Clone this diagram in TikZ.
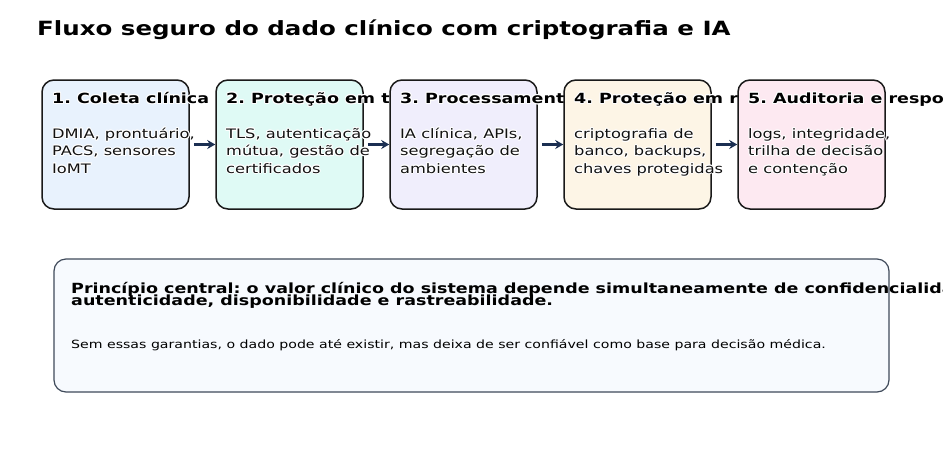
\documentclass[tikz,border=0pt]{standalone}
\usepackage{fontspec}
\setmainfont{DejaVu Sans}[FakeStretch=1.25]
\usepackage[copies]{contour}
\contourlength{0.9pt}
\usetikzlibrary{arrows.meta}
\definecolor{cA}{HTML}{E8F2FD}
\definecolor{cB}{HTML}{DFFAF5}
\definecolor{cC}{HTML}{F0EEFC}
\definecolor{cD}{HTML}{FDF5E6}
\definecolor{cE}{HTML}{FDE9F1}
\definecolor{cF}{HTML}{F7FAFE}
\definecolor{arrc}{HTML}{1B2F52}
\definecolor{txt}{HTML}{111111}
\definecolor{bord}{HTML}{3F4A5A}
\tikzset{
  stepbox/.style={draw=black!90, line width=1.5pt, rounded corners=12pt, minimum width=147pt, minimum height=129pt, inner sep=0pt},
  notebox/.style={draw=bord, line width=1.2pt, rounded corners=12pt, minimum width=835pt, minimum height=133pt, inner sep=0pt, fill=cF},
  ttl/.style={anchor=base west, inner sep=0pt, font=\fontsize{19.6}{24}\selectfont\bfseries, text=black},
  hd/.style={anchor=base west, inner sep=0pt, font=\fontsize{14}{17}\selectfont\bfseries, text=black},
  bd/.style={anchor=base west, inner sep=0pt, font=\fontsize{13}{16}\selectfont, text=txt},
  nb/.style={anchor=base west, inner sep=0pt, font=\fontsize{14}{17}\selectfont\bfseries, text=black},
  ns/.style={anchor=base west, inner sep=0pt, font=\fontsize{11.3}{13}\selectfont, text=black},
  arr/.style={draw=arrc, line width=2.5pt, -{Stealth[length=8pt,width=9pt]}}
}
\newcommand{\ct}[1]{\contour{white}{#1}}
\frenchspacing
\begin{document}
\begin{tikzpicture}[x=1pt,y=-1pt]
\useasboundingbox[fill=white] (0,0) rectangle (943,448);
\node[ttl] (title) at (37,35) {Fluxo seguro do dado clínico com criptografia e IA};
% box 1
\node[stepbox, fill=cA] (b1) at (115.5,144.5) {};
\node[hd] (h1) at (52,103.5) {\ct{1. Coleta clínica}};
\node[bd] (t1a) at (52,138.5) {\ct{DMIA, prontuário,}};
\node[bd] (t1b) at (52,155.8) {\ct{PACS, sensores}};
\node[bd] (t1c) at (52,173.1) {\ct{IoMT}};
% box 2
\node[stepbox, fill=cB] (b2) at (289.5,144.5) {};
\node[hd] (h2) at (226,103.5) {\ct{2. Proteção em trânsito}};
\node[bd] (t2a) at (226,138.5) {\ct{TLS, autenticação}};
\node[bd] (t2b) at (226,155.8) {\ct{mútua, gestão de}};
\node[bd] (t2c) at (226,173.1) {\ct{certificados}};
% box 3
\node[stepbox, fill=cC] (b3) at (463.5,144.5) {};
\node[hd] (h3) at (400,103.5) {\ct{3. Processamento}};
\node[bd] (t3a) at (400,138.5) {\ct{IA clínica, APIs,}};
\node[bd] (t3b) at (400,155.8) {\ct{segregação de}};
\node[bd] (t3c) at (400,173.1) {\ct{ambientes}};
% box 4
\node[stepbox, fill=cD] (b4) at (637.5,144.5) {};
\node[hd] (h4) at (574,103.5) {\ct{4. Proteção em repouso}};
\node[bd] (t4a) at (574,138.5) {\ct{criptografia de}};
\node[bd] (t4b) at (574,155.8) {\ct{banco, backups,}};
\node[bd] (t4c) at (574,173.1) {\ct{chaves protegidas}};
% box 5
\node[stepbox, fill=cE] (b5) at (811.5,144.5) {};
\node[hd] (h5) at (748,103.5) {\ct{5. Auditoria e resposta}};
\node[bd] (t5a) at (748,138.5) {\ct{logs, integridade,}};
\node[bd] (t5b) at (748,155.8) {\ct{trilha de decisão}};
\node[bd] (t5c) at (748,173.1) {\ct{e contenção}};
% arrows
\draw[arr] ([xshift=4pt]b1.east) -- (b2.west);
\draw[arr] ([xshift=4pt]b2.east) -- (b3.west);
\draw[arr] ([xshift=4pt]b3.east) -- (b4.west);
\draw[arr] ([xshift=4pt]b4.east) -- (b5.west);
% note
\node[notebox] (nt) at (471.5,325.5) {};
\node[nb] (n1) at (71,293) {Princípio central: o valor clínico do sistema depende simultaneamente de confidencialidade, integridade,};
\node[nb] (n2) at (71,305) {autenticidade, disponibilidade e rastreabilidade.};
\node[ns] (n3) at (71,348.5) {Sem essas garantias, o dado pode até existir, mas deixa de ser confiável como base para decisão médica.};
\end{tikzpicture}
\end{document}
